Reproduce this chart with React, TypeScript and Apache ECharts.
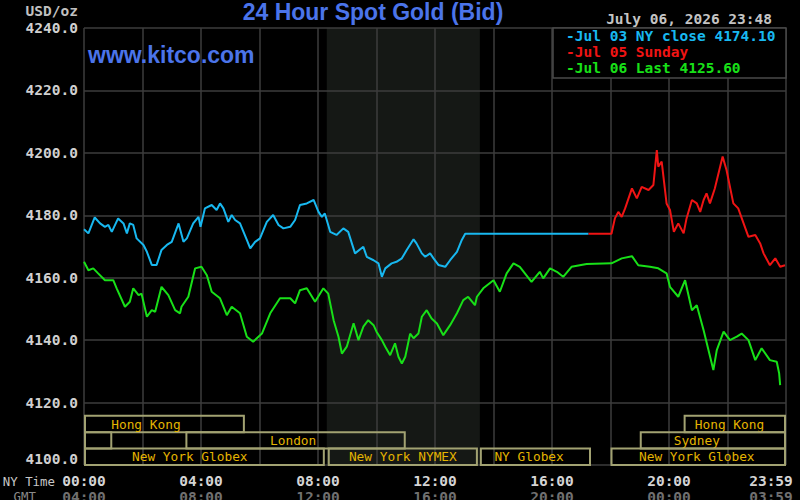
import React, { useEffect, useRef } from "react";
import * as echarts from "echarts";

// ---------- data (minutes after 00:00 NY time, USD/oz) ----------
const jul03Min = [0, 9, 22, 33, 43, 50, 57, 70, 81, 88, 94, 101, 108, 122, 129, 139, 149, 159, 170, 180, 194, 204, 211, 224, 235, 239, 248, 262, 272, 279, 286, 296, 303, 310, 320, 334, 341, 351, 361, 375, 388, 399, 409, 423, 433, 443, 457, 471, 481, 488, 494, 505, 518, 532, 542, 556, 573, 580, 594, 604, 611, 618, 631, 641, 652, 662, 676, 682, 693, 700, 710, 717, 727, 741, 751, 765, 775, 782, 792, 1035];
const jul03Val = [4175.5, 4174.2, 4179.3, 4177.4, 4176.3, 4176.9, 4174.7, 4179.0, 4177.4, 4174.2, 4177.4, 4176.9, 4172.6, 4170.5, 4168.3, 4164.1, 4164.1, 4168.9, 4170.5, 4171.5, 4177.4, 4171.5, 4172.6, 4177.4, 4179.5, 4176.3, 4182.2, 4183.3, 4181.7, 4183.8, 4182.2, 4177.9, 4180.1, 4178.5, 4177.4, 4172.1, 4169.4, 4171.5, 4172.6, 4177.9, 4180.1, 4176.9, 4175.8, 4176.3, 4178.5, 4183.3, 4183.8, 4184.9, 4181.1, 4179.5, 4180.6, 4174.7, 4173.7, 4175.8, 4174.7, 4167.8, 4169.9, 4166.7, 4165.6, 4164.6, 4160.3, 4163.0, 4164.6, 4165.1, 4166.2, 4168.9, 4172.3, 4171.0, 4167.8, 4166.7, 4167.8, 4166.2, 4164.1, 4163.5, 4165.6, 4168.3, 4172.1, 4174.1, 4174.1, 4174.1];

const jul05Min = [1035, 1082, 1089, 1096, 1103, 1110, 1124, 1134, 1144, 1158, 1168, 1175, 1178, 1185, 1195, 1202, 1210, 1219, 1230, 1236, 1247, 1257, 1264, 1271, 1277, 1284, 1294, 1310, 1318, 1332, 1342, 1353, 1363, 1377, 1387, 1394, 1407, 1418, 1428, 1438];
const jul05Val = [4174.1, 4174.1, 4179.0, 4181.1, 4179.5, 4182.2, 4188.6, 4185.4, 4189.1, 4188.1, 4189.7, 4200.9, 4195.6, 4197.2, 4183.8, 4181.7, 4174.7, 4177.4, 4174.2, 4179.0, 4184.9, 4183.8, 4181.1, 4184.9, 4187.0, 4183.8, 4188.6, 4198.8, 4194.5, 4183.8, 4182.2, 4177.4, 4173.1, 4173.7, 4171.0, 4167.8, 4164.0, 4166.2, 4163.5, 4164.0];

const jul06Min = [0, 9, 19, 29, 43, 60, 67, 84, 94, 101, 112, 118, 129, 139, 146, 159, 173, 187, 197, 200, 214, 228, 241, 252, 262, 279, 293, 303, 320, 334, 347, 365, 382, 402, 423, 433, 443, 457, 474, 491, 501, 512, 522, 529, 539, 553, 563, 573, 583, 594, 600, 611, 618, 628, 638, 645, 652, 659, 669, 676, 686, 693, 703, 713, 724, 737, 751, 765, 778, 788, 802, 806, 819, 840, 853, 867, 881, 894, 918, 935, 942, 956, 970, 983, 1000, 1031, 1082, 1103, 1124, 1137, 1161, 1178, 1195, 1202, 1219, 1233, 1247, 1257, 1271, 1291, 1298, 1312, 1325, 1339, 1349, 1363, 1377, 1390, 1407, 1421, 1426, 1428];
const jul06Val = [4165.1, 4162.4, 4163.0, 4161.4, 4159.2, 4159.2, 4156.6, 4150.7, 4152.3, 4156.6, 4154.4, 4154.9, 4147.5, 4149.6, 4149.1, 4157.1, 4154.4, 4149.6, 4148.6, 4150.7, 4153.9, 4163.0, 4163.5, 4160.8, 4155.5, 4153.4, 4148.0, 4150.7, 4148.6, 4141.1, 4139.5, 4142.1, 4148.6, 4153.4, 4153.4, 4151.8, 4156.0, 4156.6, 4152.3, 4156.6, 4154.9, 4146.4, 4141.1, 4135.7, 4137.9, 4145.4, 4140.0, 4144.3, 4146.4, 4144.8, 4142.7, 4140.0, 4137.9, 4135.2, 4139.0, 4134.7, 4132.5, 4134.7, 4142.1, 4140.6, 4142.1, 4147.5, 4149.6, 4146.9, 4145.3, 4141.6, 4144.8, 4148.6, 4152.8, 4153.9, 4151.2, 4153.9, 4156.6, 4159.2, 4155.5, 4161.4, 4164.6, 4163.5, 4158.7, 4161.9, 4159.8, 4163.0, 4161.9, 4160.3, 4163.5, 4164.4, 4164.6, 4166.2, 4166.9, 4164.0, 4163.5, 4163.0, 4161.4, 4157.1, 4153.9, 4159.2, 4149.6, 4151.2, 4143.2, 4130.4, 4136.8, 4142.7, 4140.0, 4141.1, 4142.1, 4140.0, 4133.6, 4137.4, 4133.6, 4133.1, 4129.3, 4125.6];

const legendTexts = ["-Jul 03 NY close 4174.10", "-Jul 05 Sunday", "-Jul 06 Last 4125.60"];
const nyTimeLabels = ["00:00", "04:00", "08:00", "12:00", "16:00", "20:00", "23:59"];
const gmtLabels = ["04:00", "08:00", "12:00", "16:00", "20:00", "00:00", "03:59"];

// trading sessions: start minute, end minute, row (0 = bottom), label centre minute
const sessionNames = ["Hong Kong", "Hong Kong", "", "London", "Sydney", "New York Globex", "New York NYMEX", "NY Globex", "New York Globex"];
const sessionStart = [0, 1230, 0, 208, 1140, 0, 500, 812, 1080];
const sessionEnd = [330, 1440, 58, 660, 1440, 494, 808, 1040, 1440];
const sessionRow = [2, 2, 1, 1, 1, 0, 0, 0, 0];
const sessionLabelAt = [127, 1324, 29, 429, 1257, 217, 654, 913, 1257];

const nymexShade = [498, 812];

const MONO = '"DejaVu Sans Mono", monospace';

function zip(a: number[], b: number[]) {
  return a.map((v, i) => [v, b[i]]);
}

export default function App() {
  const ref = useRef<HTMLDivElement>(null);
  useEffect(() => {
    if (!ref.current) return;
    const chart = echarts.init(ref.current, undefined, { renderer: "svg" });
    const sessionData = sessionStart.map((s, i) => [s, sessionEnd[i], sessionRow[i], sessionLabelAt[i]]);
    const option: any = {
      animation: false,
      backgroundColor: "#000",
      grid: { left: 84, right: 14, top: 28, bottom: 35, outerBoundsMode: "none", containLabel: false },
      xAxis: {
        type: "value",
        min: 0,
        max: 1440,
        interval: 120,
        axisLine: { show: false },
        axisTick: { show: false },
        splitLine: { show: true, lineStyle: { color: "#3c3c3c", width: 1.5 } },
        axisLabel: {
          margin: 8,
          hideOverlap: false,
          formatter: (v: number) => {
            if (v % 240 !== 0) return "";
            const i = v / 240;
            if (i === 6) return `{c|${nyTimeLabels[i]}}\n{d|${gmtLabels[i]}}`;
            return `{a|${nyTimeLabels[i]}}\n{b|${gmtLabels[i]}}`;
          },
          rich: {
            a: { color: "#d4d4d4", fontFamily: MONO, fontSize: 14.5, fontWeight: "bold", lineHeight: 16 },
            b: { color: "#707070", fontFamily: MONO, fontSize: 14.5, fontWeight: "bold", lineHeight: 16 },
            c: { color: "#d4d4d4", fontFamily: MONO, fontSize: 14.5, fontWeight: "bold", lineHeight: 16, padding: [0, 30, 0, 0] },
            d: { color: "#707070", fontFamily: MONO, fontSize: 14.5, fontWeight: "bold", lineHeight: 16, padding: [0, 30, 0, 0] },
          },
        },
      },
      yAxis: {
        type: "value",
        min: 4100,
        max: 4240,
        interval: 20,
        axisLine: { show: false },
        axisTick: { show: false },
        splitLine: { show: true, lineStyle: { color: "#3c3c3c", width: 1.5 } },
        axisLabel: {
          margin: 6,
          color: "#d0d0d0",
          fontFamily: MONO,
          fontSize: 14.5,
          fontWeight: "bold",
          lineHeight: 12,
          formatter: (v: number) => (v === 4100 ? v.toFixed(1) + "\n " : v.toFixed(1)),
        },
      },
      graphic: [
        { type: "text", z: 10, x: 373, y: 12, style: { text: "24 Hour Spot Gold (Bid)", fill: "#4b74ea", font: 'bold 23px "Liberation Sans", Arial, sans-serif', align: "center", verticalAlign: "middle" } },
        { type: "text", z: 10, x: 88, y: 55, style: { text: "www.kitco.com", fill: "#4b74ea", font: 'bold 23px "Liberation Sans", Arial, sans-serif', align: "left", verticalAlign: "middle" } },
        { type: "text", z: 10, x: 78, y: 11, style: { text: "USD/oz", fill: "#c0c0c0", font: `bold 14.5px ${MONO}`, align: "right", verticalAlign: "middle" } },
        { type: "text", z: 10, x: 772, y: 19, style: { text: "July 06, 2026 23:48", fill: "#c4c4c4", font: `bold 14.5px ${MONO}`, align: "right", verticalAlign: "middle" } },
        { type: "rect", z: 10, shape: { x: 553, y: 28, width: 233, height: 50 }, style: { fill: "#000", stroke: "#4a4a4a", lineWidth: 1.5 } },
        { type: "text", z: 11, x: 566, y: 36, style: { text: legendTexts[0], fill: "#18b8f0", font: `bold 14.5px ${MONO}`, align: "left", verticalAlign: "middle" } },
        { type: "text", z: 11, x: 566, y: 52, style: { text: legendTexts[1], fill: "#f01414", font: `bold 14.5px ${MONO}`, align: "left", verticalAlign: "middle" } },
        { type: "text", z: 11, x: 566, y: 68, style: { text: legendTexts[2], fill: "#18e018", font: `bold 14.5px ${MONO}`, align: "left", verticalAlign: "middle" } },
        { type: "text", z: 10, x: 55, y: 481, style: { text: "NY Time", fill: "#c8c8c8", font: `12.4px ${MONO}`, align: "right", verticalAlign: "middle" } },
        { type: "text", z: 10, x: 36, y: 496, style: { text: "GMT", fill: "#8a8a8a", font: `12.4px ${MONO}`, align: "right", verticalAlign: "middle" } },
      ],
      series: [
        {
          type: "line",
          data: [],
          z: -1,
          markArea: {
            z: -1,
            silent: true,
            itemStyle: { color: "#151815" },
            data: [[{ xAxis: nymexShade[0] }, { xAxis: nymexShade[1] }]],
          },
        },
        {
          name: "Jul 03",
          type: "line",
          data: zip(jul03Min, jul03Val),
          showSymbol: false,
          symbol: "none",
          lineStyle: { color: "#18b8f0", width: 2 },
          z: 3,
        },
        {
          name: "Jul 05",
          type: "line",
          data: zip(jul05Min, jul05Val),
          showSymbol: false,
          symbol: "none",
          lineStyle: { color: "#f01414", width: 2 },
          z: 3,
        },
        {
          name: "Jul 06",
          type: "line",
          data: zip(jul06Min, jul06Val),
          showSymbol: false,
          symbol: "none",
          lineStyle: { color: "#18e018", width: 2 },
          z: 4,
        },
        {
          type: "custom",
          z: 5,
          data: sessionData,
          encode: { x: [0, 1, 3], y: 2 },
          renderItem: (params: any, api: any) => {
            const s = api.value(0);
            const e = api.value(1);
            const row = api.value(2);
            const la = api.value(3);
            const p1 = api.coord([s, 4100]);
            const p2 = api.coord([e, 4100]);
            const pl = api.coord([la, 4100]);
            const h = 16.4;
            const yb = p1[1];
            return {
              type: "group",
              children: [
                {
                  type: "rect",
                  shape: { x: p1[0] + 1, y: yb - (row + 1) * h, width: p2[0] - p1[0] - 2, height: h },
                  style: { fill: "none", stroke: "#a2a272", lineWidth: 2 },
                },
                {
                  type: "text",
                  x: pl[0],
                  y: yb - (row + 0.5) * h,
                  style: {
                    text: sessionNames[params.dataIndex],
                    fill: "#e4b400",
                    font: `12.8px ${MONO}`,
                    align: "center",
                    verticalAlign: "middle",
                  },
                },
              ],
            };
          },
        },
      ],
    };
    chart.setOption(option);
    return () => chart.dispose();
  }, []);
  return (
    <div
      ref={ref}
      style={{ position: "absolute", left: 0, top: 0, width: 800, height: 500, background: "#000" }}
    />
  );
}
